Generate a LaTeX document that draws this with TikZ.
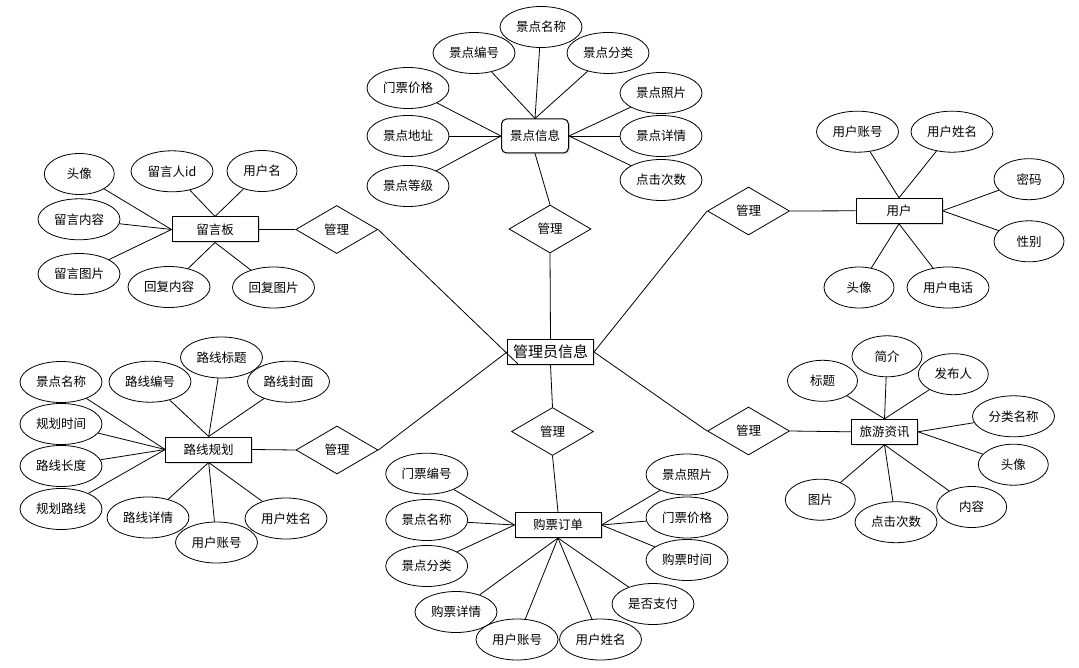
\documentclass[tikz,border=0pt]{standalone}
\usepackage{fontspec}
\setmainfont{Noto Sans CJK SC}
\usetikzlibrary{shapes.geometric,shadows}
\begin{document}
\begin{tikzpicture}[x=1pt,y=-1pt,
  every node/.style={font=\fontsize{12.5}{14}\selectfont},
  attr/.style={ellipse,draw,fill=white,line width=0.8pt,minimum width=82pt,minimum height=41pt,inner sep=0pt},
  sattr/.style={attr,minimum width=70pt},
  ent/.style={rectangle,draw,fill=white,line width=1pt,minimum width=86pt,minimum height=25pt,inner sep=0pt,
    drop shadow={opacity=0.25,shadow xshift=1.5pt,shadow yshift=-1.5pt}},
  rel/.style={diamond,draw,fill=white,line width=0.8pt,minimum width=82pt,minimum height=48pt,inner sep=0pt},
  ln/.style={line width=0.8pt}]
\useasboundingbox (0,0) rectangle (1079,668);

% central
\node[ent,minimum height=25pt,font=\fontsize{15}{17}\selectfont] (c) at (550.5,352) {管理员信息};
\coordinate (c1) at (518,364);

% 景点信息
\node[ent,rounded corners=5pt,minimum width=67pt,minimum height=34pt] (jd) at (535,136) {景点信息};
\node[attr] (jd1) at (541,27) {景点名称};
\node[attr] (jd2) at (474,53) {景点编号};
\node[attr] (jd3) at (608,53) {景点分类};
\node[attr] (jd4) at (408,88) {门票价格};
\node[attr] (jd5) at (408,136) {景点地址};
\node[attr] (jd6) at (408,186) {景点等级};
\node[attr] (jd7) at (661,93) {景点照片};
\node[attr] (jd8) at (661,136) {景点详情};
\node[attr] (jd9) at (661,180) {点击次数};
\node[rel] (m1) at (550,229) {管理};
\foreach \i in {1,2,3} \draw[ln] (jd\i) -- (jd.north);
\foreach \i in {4,5,6} \draw[ln] (jd\i) -- (jd.west);
\foreach \i in {7,8,9} \draw[ln] (jd\i) -- (jd.east);
\draw[ln] (jd.south) -- (m1.north);
\draw[ln] (m1.south) -- (c.north);

% 留言板
\node[ent] (ly) at (215,229.5) {留言板};
\node[sattr] (ly1) at (79.3,174) {头像};
\node[attr] (ly2) at (172,171.3) {留言人id};
\node[sattr] (ly3) at (262,171) {用户名};
\node[attr] (ly4) at (79,219.3) {留言内容};
\node[attr] (ly5) at (79,274) {留言图片};
\node[attr] (ly6) at (169,287) {回复内容};
\node[attr] (ly7) at (273.5,287.5) {回复图片};
\node[rel] (m2) at (336.7,229.5) {管理};
\foreach \i in {1,4,5} \draw[ln] (ly\i) -- (ly.west);
\foreach \i in {2,3} \draw[ln] (ly\i) -- (ly.north);
\foreach \i in {6,7} \draw[ln] (ly\i) -- (ly.south);
\draw[ln] (ly.east) -- (m2.west);
\draw[ln] (m2.east) -- (c1);

% 路线规划
\node[ent] (lx) at (208.7,449.5) {路线规划};
\node[attr] (lx1) at (61,382) {景点名称};
\node[attr] (lx2) at (61,424) {规划时间};
\node[attr] (lx3) at (61,466) {路线长度};
\node[attr] (lx4) at (61,509) {规划路线};
\node[attr] (lx5) at (150,381.7) {路线编号};
\node[attr] (lx6) at (221.5,357.5) {路线标题};
\node[attr] (lx7) at (288.5,381.7) {路线封面};
\node[attr] (lx8) at (148,517.5) {路线详情};
\node[attr] (lx10) at (286,518.5) {用户姓名};
\node[attr] (lx9) at (216.5,542.5) {用户账号};
\node[rel] (m3) at (337,450) {管理};
\foreach \i in {1,2,3,4} \draw[ln] (lx\i) -- (lx.west);
\foreach \i in {5,6,7} \draw[ln] (lx\i) -- (lx.north);
\foreach \i in {8,9,10} \draw[ln] (lx\i) -- (lx.south);
\draw[ln] (lx.east) -- (m3.west);
\draw[ln] (m3.east) -- (c.west);

% 购票订单
\node[ent] (gp) at (558,525) {购票订单};
\node[attr] (gp1) at (426.7,473.7) {门票编号};
\node[attr] (gp2) at (426.7,520) {景点名称};
\node[attr] (gp3) at (426.7,566) {景点分类};
\node[attr] (gp4) at (687,474.5) {景点照片};
\node[attr] (gp5) at (687,517.5) {门票价格};
\node[attr] (gp6) at (687,560) {购票时间};
\node[attr] (gp7) at (653,604) {是否支付};
\node[attr] (gp8) at (456,612) {购票详情};
\node[attr] (gp9) at (517,639.5) {用户账号};
\node[attr] (gp10) at (600.5,639.5) {用户姓名};
\node[rel] (m4) at (552.5,431.5) {管理};
\foreach \i in {1,2,3} \draw[ln] (gp\i) -- (gp.west);
\foreach \i in {4,5,6} \draw[ln] (gp\i) -- (gp.east);
\foreach \i in {7,8,9,10} \draw[ln] (gp\i) -- (gp.south);
\draw[ln] (c.south) -- (m4.north);
\draw[ln] (m4.south) -- (gp.north);

% 用户
\node[ent] (yh) at (899,210.8) {用户};
\node[attr] (yh1) at (857.5,131.7) {用户账号};
\node[attr] (yh2) at (952,131.7) {用户姓名};
\node[sattr] (yh3) at (1029,179.2) {密码};
\node[sattr] (yh4) at (1029,241.3) {性别};
\node[sattr] (yh5) at (859,287.5) {头像};
\node[attr] (yh6) at (948,287.5) {用户电话};
\node[rel] (m5) at (748.5,211) {管理};
\foreach \i in {1,2} \draw[ln] (yh\i) -- (yh.north);
\foreach \i in {3,4} \draw[ln] (yh\i) -- (yh.east);
\foreach \i in {5,6} \draw[ln] (yh\i) -- (yh.south);
\draw[ln] (m5.east) -- (yh.west);
\draw[ln] (m5.west) -- (c.east);

% 旅游资讯
\node[ent,minimum width=66pt] (zx) at (884.5,431.8) {旅游资讯};
\node[sattr] (zx1) at (822.5,380.8) {标题};
\node[sattr] (zx2) at (887,356.3) {简介};
\node[sattr] (zx3) at (953.3,374.2) {发布人};
\node[attr] (zx4) at (1013.5,416.3) {分类名称};
\node[sattr] (zx5) at (1013.3,464.7) {头像};
\node[sattr] (zx6) at (971.7,507) {内容};
\node[attr] (zx7) at (896,522.2) {点击次数};
\node[sattr] (zx8) at (820.3,499.7) {图片};
\node[rel] (m6) at (748.5,431) {管理};
\foreach \i in {1,2,3} \draw[ln] (zx\i) -- (zx.north);
\foreach \i in {4,5} \draw[ln] (zx\i) -- (zx.east);
\foreach \i in {6,7,8} \draw[ln] (zx\i) -- (zx.south);
\draw[ln] (m6.east) -- (zx.west);
\draw[ln] (m6.west) -- (c.east);
\end{tikzpicture}
\end{document}
